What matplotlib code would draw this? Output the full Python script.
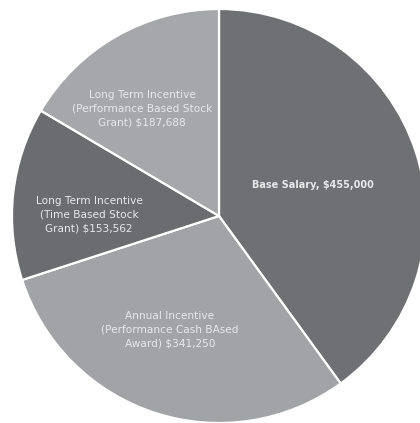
import matplotlib
matplotlib.use("Agg")
import matplotlib.pyplot as plt

categories = [
    "Base Salary, $455,000",
    "Annual Incentive\n(Performance Cash BAsed\nAward) $341,250",
    "Long Term Incentive\n(Time Based Stock\nGrant) $153,562",
    "Long Term Incentive\n(Performance Based Stock\nGrant) $187,688",
]
values = [455000, 341250, 153562, 187688]
colors = ["#6f7073", "#a2a3a7", "#6b6c70", "#a6a7aa"]

# label anchor positions (layout, in units of pie radius)
label_pos = [(0.454, 0.150), (-0.237, -0.550), (-0.628, 0.005), (-0.372, 0.517)]

fig = plt.figure(figsize=(4.2, 4.23), dpi=100)
ax = fig.add_axes([0, 0, 1, 1])
wedges, _ = ax.pie(values, colors=colors, startangle=90, counterclock=False,
                   radius=1.0,
                   wedgeprops=dict(edgecolor="white", linewidth=1.6))
for i, (lab, (x, y)) in enumerate(zip(categories, label_pos)):
    ax.text(x, y, lab, ha="center", va="center",
            fontsize=7.0 if i == 0 else 7.6,
            color="#e8e8ea", family="DejaVu Sans", linespacing=1.5,
            weight="bold" if i == 0 else "normal")

R = 207.0
ax.set_xlim(-219 / R, 201 / R)
ax.set_ylim(-207 / R, 216 / R)
ax.set_aspect("auto")
ax.axis("off")
fig.savefig("out.png", dpi=100, facecolor="white")
